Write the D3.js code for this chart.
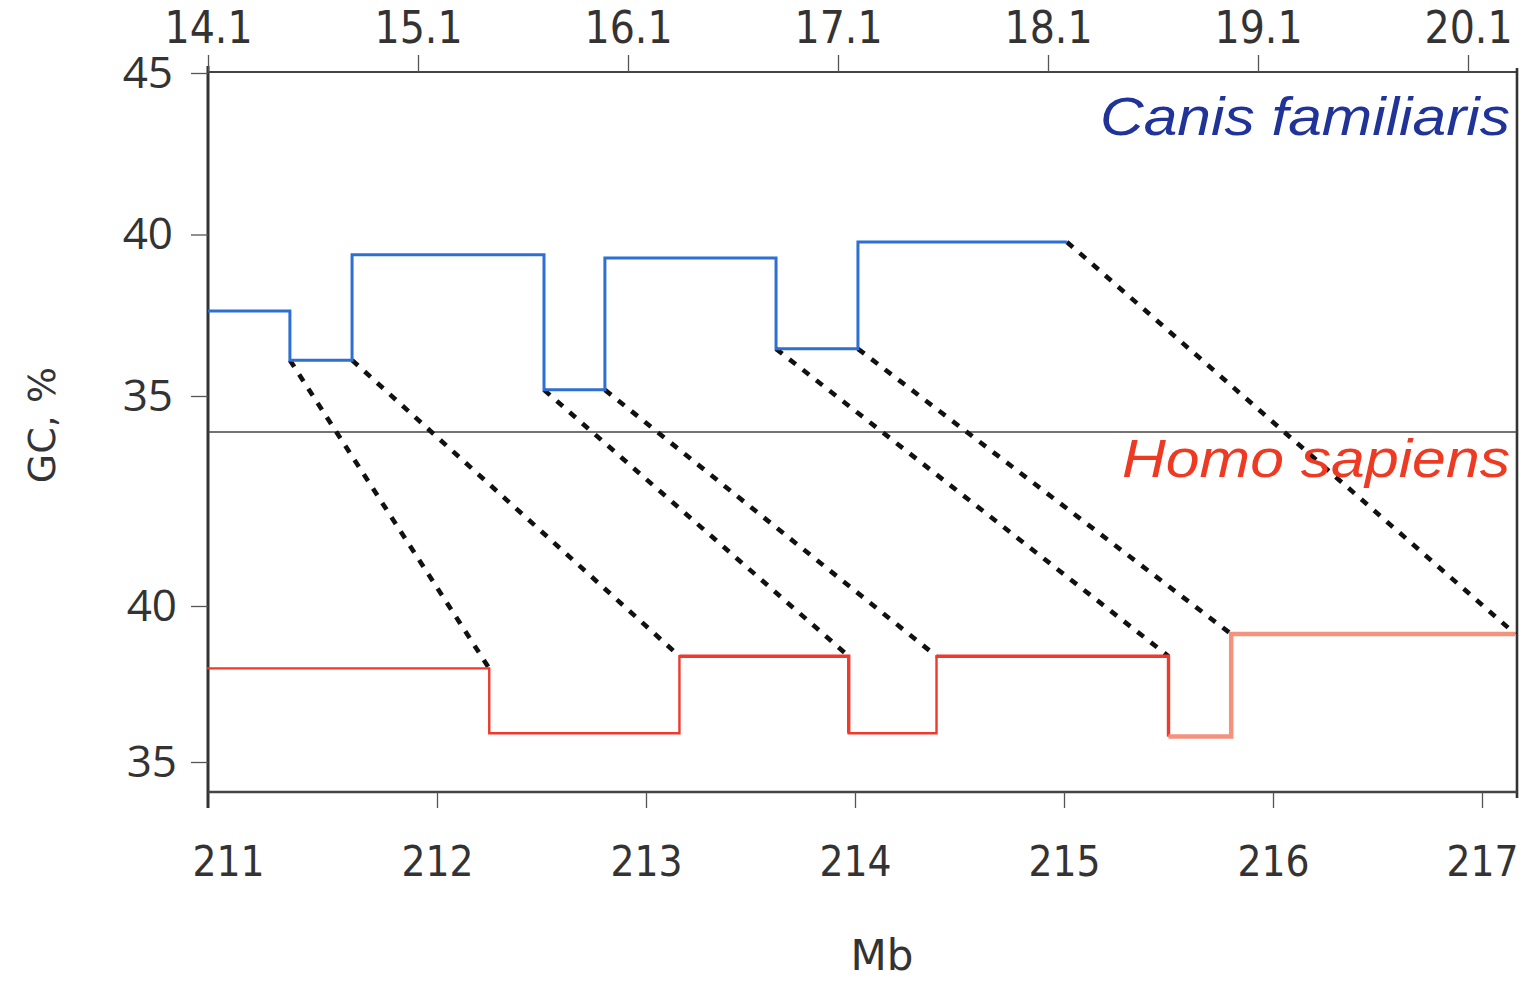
<!DOCTYPE html>
<html>
<head>
<meta charset="utf-8">
<script src="https://cdn.jsdelivr.net/npm/d3@7"></script>
<style>
  html, body { margin: 0; padding: 0; background: #fff; }
  svg { display: block; }
  .tick-top text { font-family: 'Liberation Sans Narrow', 'DejaVu Sans Condensed', sans-serif; font-stretch: condensed; }
</style>
</head>
<body>
<svg id="chart" width="1537" height="985"></svg>
<script>
// Perro (eje superior) y humano (eje inferior), GC % por bloques
const dogEdges = [14.1, 14.49, 14.786, 15.70, 15.99, 16.805, 17.195, 18.19];
const dogGC = [37.63, 36.11, 39.37, 35.19, 39.27, 36.46, 39.77];

const humanEdges = [210.9, 212.25, 213.16, 213.97, 214.39, 215.5, 215.8, 217.16];
const humanGC = [38.0, 35.92, 38.39, 35.92, 38.39, 35.82, 39.1];

const topTicks = [14.1, 15.1, 16.1, 17.1, 18.1, 19.1, 20.1];
const bottomTicks = [211, 212, 213, 214, 215, 216, 217];
const yTopTicks = [45, 40, 35];
const yBotTicks = [40, 35];

const L = 208, R = 1517, T = 72, MID = 432, B = 792;

const svg = d3.select('#chart');

const xTop = d3.scaleLinear().domain([14.1, 20.1]).range([208, 1468]);
const xBot = d3.scaleLinear().domain([212, 217]).range([437, 1482]);
const yTop = d3.scaleLinear().domain([35, 45]).range([396, 73]);
const yBot = d3.scaleLinear().domain([35, 40]).range([762, 606]);

const axisColor = '#333';
const txtColor = '#333';

// Marco
svg.append('line').attr('x1', L).attr('x2', L).attr('y1', 66).attr('y2', 808)
  .attr('stroke', axisColor).attr('stroke-width', 3);
svg.append('line').attr('x1', L).attr('x2', R).attr('y1', T).attr('y2', T)
  .attr('stroke', '#444').attr('stroke-width', 2.2);
svg.append('line').attr('x1', R).attr('x2', R).attr('y1', T - 4).attr('y2', B + 6)
  .attr('stroke', axisColor).attr('stroke-width', 2.6);
svg.append('line').attr('x1', L).attr('x2', R).attr('y1', B).attr('y2', B)
  .attr('stroke', '#444').attr('stroke-width', 2.6);
svg.append('line').attr('x1', L).attr('x2', R).attr('y1', MID).attr('y2', MID)
  .attr('stroke', '#444').attr('stroke-width', 1.5);

// Eje superior
const gTop = svg.append('g').attr('class', 'tick-top').attr('transform', `translate(0,${T})`)
  .call(d3.axisTop(xTop).tickValues(topTicks).tickFormat(d3.format('.1f')).tickSize(17).tickPadding(12));
gTop.select('.domain').remove();
gTop.selectAll('line').attr('stroke', '#555').attr('stroke-width', 1.3);
gTop.selectAll('text').attr('fill', txtColor).style('font-size', '44px');

// Eje inferior
const gBot = svg.append('g').attr('transform', `translate(0,${B})`)
  .call(d3.axisBottom(xBot).tickValues(bottomTicks).tickFormat(d3.format('d')).tickSize(16).tickPadding(38));
gBot.select('.domain').remove();
gBot.selectAll('line').attr('stroke', '#555').attr('stroke-width', 1.3)
  .filter(d => d === 211).remove();
gBot.selectAll('text').attr('fill', txtColor)
  .style('font-family', "'DejaVu Sans Condensed', 'Liberation Sans Narrow', sans-serif")
  .style('font-size', '42px');

// Ejes Y
const gYT = svg.append('g').attr('transform', `translate(${L},0)`)
  .call(d3.axisLeft(yTop).tickValues(yTopTicks).tickFormat(d3.format('d')).tickSize(17).tickPadding(18));
const gYB = svg.append('g').attr('transform', `translate(${L},0)`)
  .call(d3.axisLeft(yBot).tickValues(yBotTicks).tickFormat(d3.format('d')).tickSize(17).tickPadding(14));
[gYT, gYB].forEach(g => {
  g.select('.domain').remove();
  g.selectAll('line').attr('stroke', '#555').attr('stroke-width', 1.3);
  g.selectAll('text').attr('fill', txtColor)
    .style('font-family', "'Open Sans', sans-serif").style('font-size', '44px');
});

// Títulos
svg.append('text').attr('transform', 'translate(55,425) rotate(-90)')
  .attr('text-anchor', 'middle').attr('fill', txtColor)
  .style('font-family', "'DejaVu Sans', sans-serif").style('font-size', '38px')
  .text('GC, %');
svg.append('text').attr('x', 882).attr('y', 970)
  .attr('text-anchor', 'middle').attr('fill', txtColor)
  .style('font-family', "'DejaVu Sans', sans-serif").style('font-size', '42px')
  .text('Mb');

// Líneas escalonadas
const stepPts = (edges, vals) => edges.map((e, i) => [e, vals[Math.min(i, vals.length - 1)]]);

const lineDog = d3.line().x(d => xTop(d[0])).y(d => yTop(d[1])).curve(d3.curveStepAfter);
const lineHum = d3.line().x(d => xBot(d[0])).y(d => yBot(d[1])).curve(d3.curveStepAfter);

// Conectores punteados
const links = dogEdges.slice(1).map((e, i) => {
  const a = dogGC[i], b = dogGC[i + 1] !== undefined ? dogGC[i + 1] : dogGC[i];
  const c = humanGC[i], d = humanGC[i + 1] !== undefined ? humanGC[i + 1] : humanGC[i];
  return { x1: xTop(e), y1: yTop(Math.min(a, b)), x2: xBot(humanEdges[i + 1]), y2: yBot(Math.max(c, d)) };
});
svg.append('g').selectAll('line').data(links).enter().append('line')
  .attr('x1', d => d.x1).attr('y1', d => d.y1).attr('x2', d => d.x2).attr('y2', d => d.y2)
  .attr('stroke', '#111').attr('stroke-width', 4.6).attr('stroke-dasharray', '8,9');

svg.append('path').attr('d', lineDog(stepPts(dogEdges, dogGC)))
  .attr('fill', 'none').attr('stroke', '#2d6fd2').attr('stroke-width', 3);

const humPts = stepPts(humanEdges, humanGC);
svg.append('path').attr('d', lineHum(humPts.slice(0, 6)))
  .attr('fill', 'none').attr('stroke', '#ee3a2c').attr('stroke-width', 2.4);
svg.append('path').attr('d', lineHum(humPts.slice(2, 4)))
  .attr('fill', 'none').attr('stroke', '#ee3a2c').attr('stroke-width', 3.4);
svg.append('path').attr('d', lineHum(humPts.slice(4, 6)))
  .attr('fill', 'none').attr('stroke', '#ee3a2c').attr('stroke-width', 3.4);
svg.append('path').attr('d', lineHum(humPts.slice(5)))
  .attr('fill', 'none').attr('stroke', '#f3937d').attr('stroke-width', 4.5);

// Etiquetas de especie
svg.append('text').attr('x', 1510).attr('y', 135).attr('text-anchor', 'end')
  .attr('fill', '#1f3399').style('font-family', "'Liberation Sans', Arial, sans-serif")
  .style('font-style', 'italic').style('font-size', '54px')
  .attr('textLength', 410).attr('lengthAdjust', 'spacingAndGlyphs').text('Canis familiaris');
svg.append('text').attr('x', 1510).attr('y', 477).attr('text-anchor', 'end')
  .attr('fill', '#ee3a22').style('font-family', "'Liberation Sans', Arial, sans-serif")
  .style('font-style', 'italic').style('font-size', '54px')
  .attr('textLength', 388).attr('lengthAdjust', 'spacingAndGlyphs').text('Homo sapiens');
</script>
</body>
</html>
